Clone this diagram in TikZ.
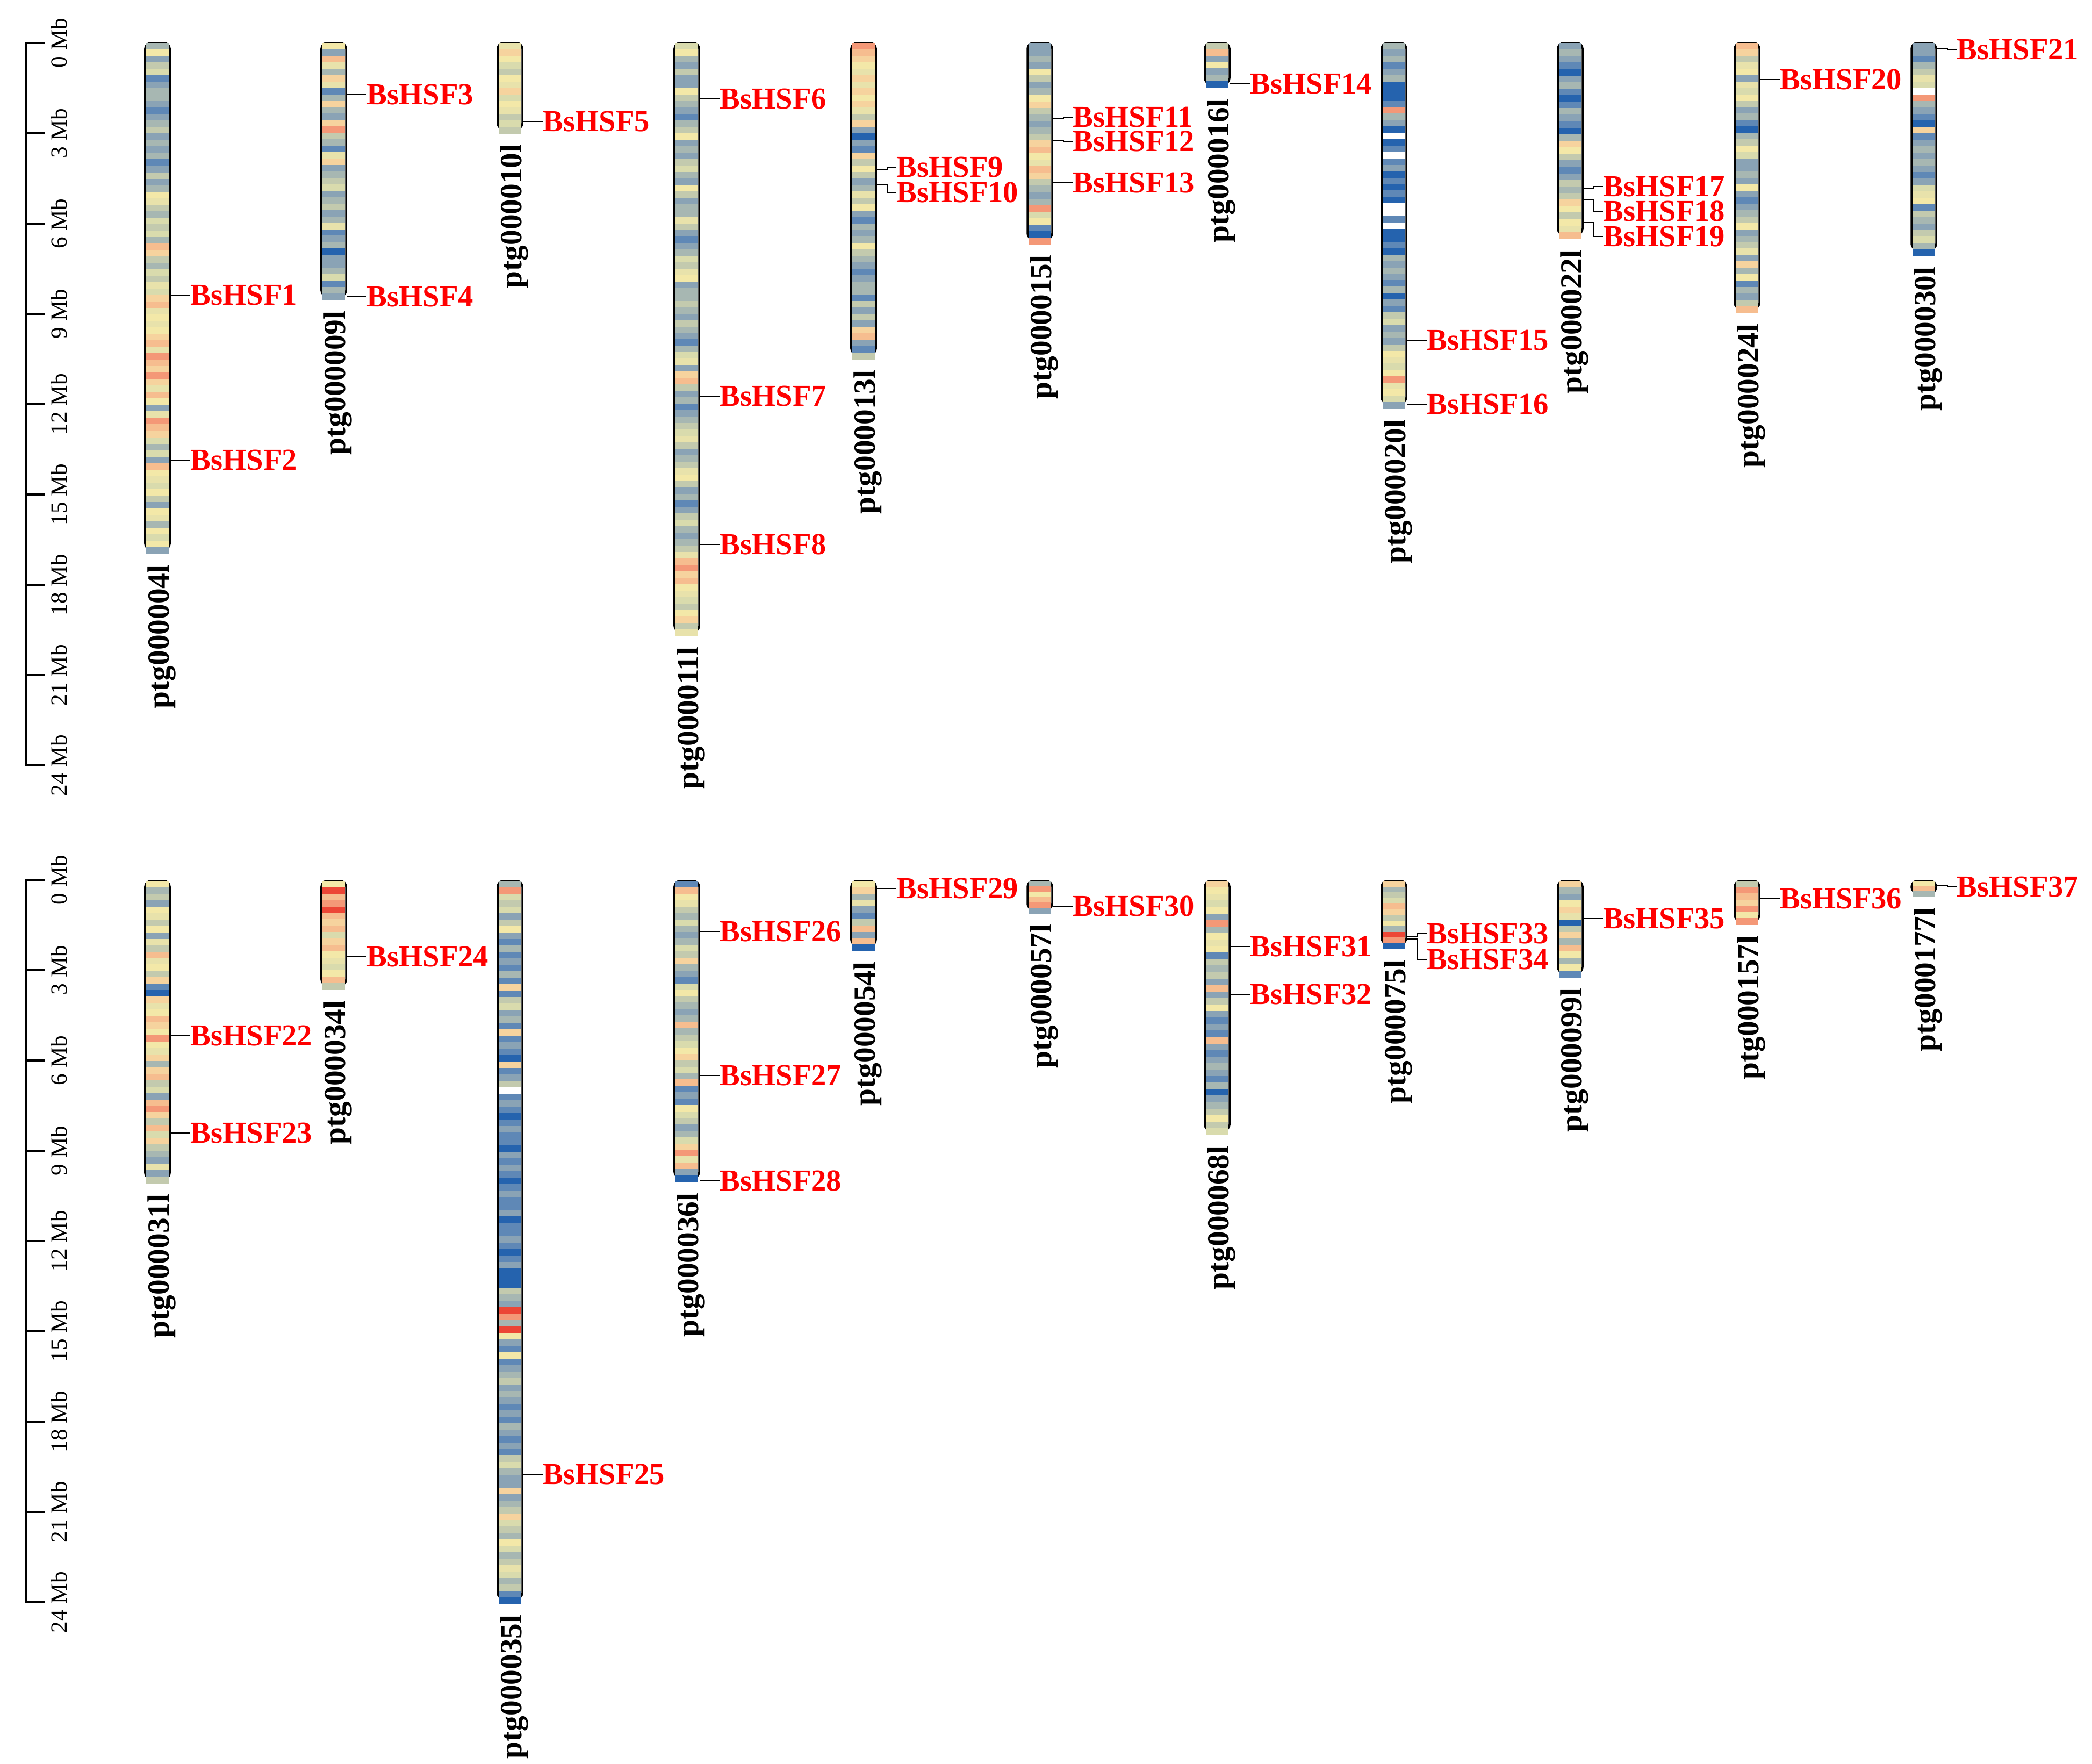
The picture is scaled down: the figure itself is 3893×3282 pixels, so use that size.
\documentclass[tikz,border=0pt]{standalone}
\usepackage{fontspec}
\setmainfont{Liberation Serif}
\definecolor{cola}{HTML}{2563AE}
\definecolor{colb}{HTML}{5F88B6}
\definecolor{colc}{HTML}{8AA3B5}
\definecolor{cold}{HTML}{A7B7B2}
\definecolor{cole}{HTML}{C3CAAE}
\definecolor{colf}{HTML}{D9DBAD}
\definecolor{colg}{HTML}{E8E2AB}
\definecolor{colh}{HTML}{F3E8A8}
\definecolor{coli}{HTML}{F6D39E}
\definecolor{colj}{HTML}{F6BD8F}
\definecolor{colk}{HTML}{F49877}
\definecolor{coll}{HTML}{EC4636}
\definecolor{colw}{HTML}{FFFFFF}
\definecolor{labred}{HTML}{FF0000}
\newcount\bandn
\newcount\bandk
\def\endbands{\relax ENDBANDS}
\def\countbands#1{\ifx#1\endbands\else\global\advance\bandn by 1\relax\expandafter\countbands\fi}
\def\drawbands#1{\ifx#1\endbands\else
  \pgfmathsetmacro\bya{\chy+\the\bandk*\chh}%
  \pgfmathsetmacro\byb{\bya+\chh+0.8}%
  \fill[col#1] (\chx-21,\bya) rectangle (\chx+21,\byb);%
  \global\advance\bandk by 1\relax
  \expandafter\drawbands\fi}
\newcommand\chrom[6]{%
  \pgfmathsetmacro\chlen{(#4-#3)*0.01}%
  \node[chromo, minimum height=\chlen cm] (#1) at (#2,{(#3+#4)/2}) {};%
  \global\bandn=0 \countbands#6\endbands
  \pgfmathsetmacro\chh{(#5-#3)/\the\bandn}%
  \def\chx{#2}\def\chy{#3}%
  \global\bandk=0 \drawbands#6\endbands
  \node[clabel] (l#1) at (#2+8,#5+20) {#1};%
}
\newcommand\gene[4]{%
  \coordinate (g#1) at (#2+24,#3);
  \node[glabel] (h#1) at (#2+61,#4) {BsHSF#1};
  \draw[conn] (g#1) -- ++(20,0) |- (h#1.west);
}
\begin{document}
\begin{tikzpicture}[x=0.01cm,y=-0.01cm,
  chromo/.style={draw=black, line width=1pt, rounded corners=3pt, minimum width=0.46cm, inner sep=0pt, outer sep=0pt},
  clabel/.style={rotate=90, anchor=east, inner sep=0pt, font=\fontsize{16.3}{19}\selectfont\bfseries},
  glabel/.style={anchor=west, inner sep=0pt, text=labred, font=\fontsize{16.1}{19}\selectfont\bfseries},
  conn/.style={draw=black, line width=0.8pt},
  axisline/.style={draw=black, line width=1pt},
  ticklabel/.style={rotate=90, anchor=north, inner sep=0pt, font=\fontsize{12.3}{14}\selectfont}]
\fill[white] (0,0) rectangle (3893,3282);
\useasboundingbox (0,0) rectangle (3893,3282);
% scale axes
\draw[axisline] (83,80) -- (49,80) -- (49,1424) -- (83,1424);
\draw[axisline] (83,1637) -- (49,1637) -- (49,2981) -- (83,2981);
\foreach \k in {0,...,8}{
  \pgfmathtruncatemacro\mb{3*\k}
  \draw[axisline] (49,80+168*\k) -- (83,80+168*\k);
  \draw[axisline] (49,1637+168*\k) -- (83,1637+168*\k);
  \node[ticklabel] (ta\k) at (94,80+168*\k) {\mb\ Mb};
  \node[ticklabel] (tb\k) at (94,1637+168*\k) {\mb\ Mb};
}
% top row
\chrom{ptg000004l}{293}{80}{1022}{1030}{d h c e f  b c d d c b c d  e c d c d  b c e c d  h g  e d f e f d  j i  e d f e g f  i j g  h g h i  j g k j i k  i g j h  c  g k j i f  d f c j  h g f h e c h g d h f h c}
\chrom{ptg000009l}{621}{80}{551}{558}{h c j g d i g b d i d c i k e d b g i c d e f c d e c d g b c d a c c d f b d c}
\chrom{ptg000010l}{949}{80}{240}{248}{g i h f e h g i f h g e f e}
\chrom{ptg000011l}{1278}{80}{1175}{1183}{f h d c e c c h e d  c b d e h c d c e f  d c h e c d d g e c  b c d f e g h c d d  e d c e d c b d f g  c i j e c d b c d e  f g e c d e g h e c  d b c e f d c d e g  j k i j h  g f e h i e g}
\chrom{ptg000013l}{1607}{80}{659}{668}{k j i h g i  g i h  i g e i  c  a  c b  i e  h  e c d  g e h  c b d  c d h  e d c  b c d  d b e  c e c  i j  c b e}
\chrom{ptg000015l}{1935}{80}{445}{454}{c c d c h e c d h i e d c d e i j h g j i e d c d k f h b a k}
\chrom{ptg000016l}{2265}{80}{156}{163}{e j c h c d a}
\chrom{ptg000020l}{2594}{80}{750}{760}{d c d  b c  d a  a a b  k  d c  a  w  a b  w  b c  a b a  b a  w w  b  w  a a b a  d c d  c b d a c b  e f c  d c e  h g f h  k  g h f  c}
\chrom{ptg000022l}{2922}{80}{436}{444}{c d c b a c d b a b d c b a d i h e c b c e d e i h e h g j}
\chrom{ptg000024l}{3251}{80}{574}{582}{j i e g h c g f h e c d b a d e h f c c d c h c b c d e h c d e g c i d h b d c e j}
\chrom{ptg000030l}{3580}{80}{464}{476}{c c b d e g f w k d c b a i b c d c d c b c f g h b e d c e f d a}
% bottom row
\chrom{ptg000031l}{293}{1639}{2193}{2201}{h d e c h g e h c g e j g h e i b a i g h j i h k h g i d i j e f c j k i e j f i e d c g c e}
\chrom{ptg000034l}{621}{1639}{1833}{1841}{h l j k l j i j f i j h g f h j e}
\chrom{ptg000035l}{949}{1639}{2974}{2984}{d k f e f c e h c b d b c b d b i b e f c d b i b c b a i b c e w  b c b a b c b b a c b c b a b c b b c a b b c b a b c a  a a e d c l k d l h c b h b c d e c d  c b c b d c b c b  e f d c c i c d e i f e d h f d e g f d e b a}
\chrom{ptg000036l}{1278}{1639}{2191}{2199}{b j h g e d f d c d f e i d c b f h e d c d j d e f h i e f d j b c b h f e c d f i k g j c a}
\chrom{ptg000054l}{1607}{1639}{1759}{1769}{h i d g c b e j c j a}
\chrom{ptg000057l}{1935}{1639}{1692}{1699}{d k h j k c}
\chrom{ptg000068l}{2265}{1639}{2103}{2111}{i h g f h c k d h g h b e d e c j c e h c b c b j c b c d c b d a c d e h e f}
\chrom{ptg000075l}{2594}{1639}{1756}{1765}{i d e f j i e h d l k a}
\chrom{ptg000099l}{2922}{1639}{1810}{1818}{i d c h i g a e i d j h d h b}
\chrom{ptg000157l}{3251}{1639}{1713}{1720}{e k j i k h k}
\chrom{ptg000177l}{3580}{1639}{1661}{1668}{h j d}
% genes
\gene{1}{293}{549}{549}
\gene{2}{293}{856}{856}
\gene{3}{621}{176}{176}
\gene{4}{621}{552}{552}
\gene{5}{949}{226}{226}
\gene{6}{1278}{184}{184}
\gene{7}{1278}{737}{737}
\gene{8}{1278}{1013}{1013}
\gene{9}{1607}{315}{311}
\gene{10}{1607}{343}{358}
\gene{11}{1935}{220}{218}
\gene{12}{1935}{261}{263}
\gene{13}{1935}{340}{340}
\gene{14}{2265}{156}{156}
\gene{15}{2594}{633}{633}
\gene{16}{2594}{752}{752}
\gene{17}{2922}{351}{347}
\gene{18}{2922}{372}{393}
\gene{19}{2922}{414}{440}
\gene{20}{3251}{148}{148}
\gene{21}{3580}{91}{92}
\gene{22}{293}{1927}{1927}
\gene{23}{293}{2108}{2108}
\gene{24}{621}{1780}{1780}
\gene{25}{949}{2743}{2743}
\gene{26}{1278}{1733}{1733}
\gene{27}{1278}{2001}{2001}
\gene{28}{1278}{2197}{2197}
\gene{29}{1607}{1653}{1653}
\gene{30}{1935}{1686}{1686}
\gene{31}{2265}{1761}{1761}
\gene{32}{2265}{1850}{1850}
\gene{33}{2594}{1742}{1737}
\gene{34}{2594}{1747}{1785}
\gene{35}{2922}{1709}{1709}
\gene{36}{3251}{1672}{1672}
\gene{37}{3580}{1648}{1650}
\end{tikzpicture}
\end{document}
